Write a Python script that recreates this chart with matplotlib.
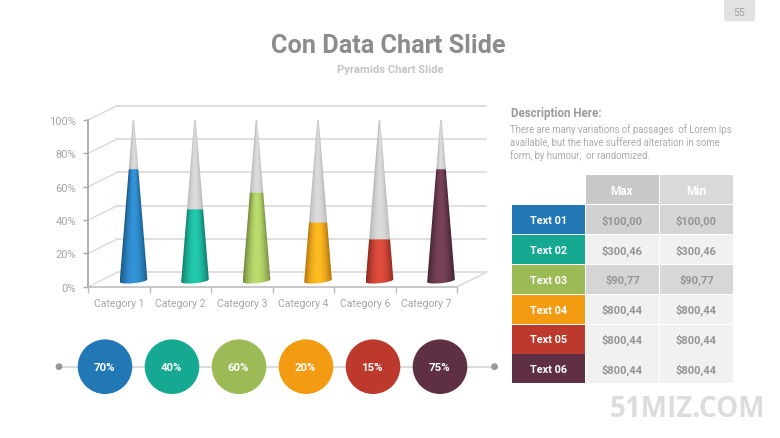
import numpy as np
import matplotlib
matplotlib.use('Agg')
import matplotlib.pyplot as plt
from matplotlib.patches import Rectangle, Circle, FancyBboxPatch, Polygon
from matplotlib.colors import to_rgb

plt.rcParams['font.family'] = ['Roboto', 'DejaVu Sans']

# data
categories = ['Category 1', 'Category 2', 'Category 3', 'Category 4', 'Category 6', 'Category 7']
cone_values = [66.5, 42.5, 52.5, 34.5, 24.5, 66.5]
colors = ['#2278b5', '#14a990', '#9cba56', '#f39c12', '#bd392b', '#5f3044']
yticks = [0, 20, 40, 60, 80, 100]
bubble_values = ['70%', '40%', '60%', '20%', '15%', '75%']
row_names = ['Text 01', 'Text 02', 'Text 03', 'Text 04', 'Text 05', 'Text 06']
max_vals = ['$100,00', '$300,46', '$90,77', '$800,44', '$800,44', '$800,44']
min_vals = ['$100,00', '$300,46', '$90,77', '$800,44', '$800,44', '$800,44']
desc_lines = ['There are many variations of passages  of Lorem Ips',
              'available, but the have suffered alteration in some',
              'form, by humour,  or randomized.']

W, H = 780, 439
fig = plt.figure(figsize=(W / 100, H / 100), dpi=100, facecolor='white')

# chart axes, placed so 0-100% and the 6 categories land on the front frame
ax = fig.add_axes([88.3 / W, 1 - 287.7 / H, 369 / W, 166.7 / H])
ax.patch.set_alpha(0)
depth_x, depth_y = 0.47, 8.6
grid_col = '#d9d9d9'
axis_col = '#bdbdbd'

# back wall, side wall and floor
for v in yticks:
    ax.plot([depth_x, 6 + depth_x], [v + depth_y, v + depth_y], color=grid_col, lw=1.2, clip_on=False, zorder=1)
    ax.plot([0, depth_x], [v, v + depth_y], color=grid_col, lw=1, clip_on=False, zorder=1)
ax.plot([6, 6 + depth_x], [0, depth_y], color=grid_col, lw=1.2, clip_on=False, zorder=1)


def draw_cone(x, value, color):
    cx = x + 0.5 + depth_x / 2
    hw = 0.225
    base = depth_y / 2 - 0.7
    top = base + 102
    xs = np.linspace(cx - hw, cx + hw, 90)
    ys = np.linspace(base - 2, top, 500)
    xx, yy = np.meshgrid(xs, ys)
    frac = np.clip((yy - base) / 102, 0, 1)
    halfw = np.maximum(hw * (1 - frac), 1e-3)
    t = np.clip(np.abs(xx - cx) / halfw, 0, 1)
    c = np.array(to_rgb(color))
    light = np.clip(c * 1.12 + 0.05, 0, 1)
    dark = c * 0.74
    level = (yy - base) <= value
    img = np.ones(xx.shape + (4,))
    for k in range(3):
        col = light[k] + (dark[k] - light[k]) * t ** 2
        grey = 0.86 + (0.72 - 0.86) * t ** 2
        img[..., k] = np.where(level, col, grey)
    img[..., 3] = 1
    im = ax.imshow(img, extent=[xs[0], xs[-1], ys[0], ys[-1]], origin='lower',
                   aspect='auto', zorder=3, interpolation='bilinear')
    # outline: two sides to the tip and a curved front at the base
    a = np.linspace(np.pi, 2 * np.pi, 30)
    bx = cx + hw * np.cos(a)
    by = base + 1.5 * np.sin(a) + 0.8 * np.cos(a)
    clip = Polygon(np.column_stack([np.r_[bx, cx], np.r_[by, top]]), transform=ax.transData)
    im.set_clip_path(clip)


for i, val in enumerate(cone_values):
    draw_cone(i, val, colors[i])

ax.set_xlim(0, 6)
ax.set_ylim(0, 100)
for s in ['top', 'right']:
    ax.spines[s].set_visible(False)
ax.spines['left'].set_color('#a8a8a8')
ax.spines['left'].set_linewidth(1.3)
ax.spines['bottom'].set_color(axis_col)
ax.spines['bottom'].set_linewidth(1.2)
ax.set_yticks(yticks)
ax.set_yticklabels(['%d%%' % v for v in yticks], fontsize=8, color='#a6a6a6')
ax.tick_params(axis='y', length=3.6, width=1, color='#a8a8a8', pad=5)
ax.set_xticks(range(7))
ax.set_xticklabels([])
ax.tick_params(axis='x', which='major', length=4, width=1, color=axis_col)
ax.set_xticks(np.arange(6) + 0.5, minor=True)
ax.set_xticklabels(categories, minor=True, fontsize=7.6, color='#a6a6a6')
ax.tick_params(axis='x', which='minor', length=0, pad=8)

# everything else in a pixel layer
ov = fig.add_axes([0, 0, 1, 1], zorder=5)
ov.set_xlim(0, W)
ov.set_ylim(H, 0)
ov.axis('off')
ov.patch.set_alpha(0)

ov.text(388, 46, 'Con Data Chart Slide', fontsize=18.2, fontweight='bold', color='#8c8c8c', ha='center', va='center')
ov.text(390.5, 70, 'Pyramids Chart Slide', fontsize=8.1, fontweight='bold', color='#c4c4c4', ha='center', va='center')

ov.add_patch(FancyBboxPatch((724, -6), 31, 28.5, boxstyle='round,pad=0,rounding_size=3', fc='#e2e2e2', ec='none'))
ov.text(739.5, 12.5, '55', fontsize=7.5, color='#a0a0a0', ha='center', va='center')

ov.text(511, 113.5, 'Description Here:', fontsize=8.3, fontweight='bold', color='#9a9a9a', va='center')
for i, line in enumerate(desc_lines):
    ov.text(510.5, 129.5 + i * 13, line, fontsize=6.85, color='#ababab', va='center')

# table
col_x = [512, 586, 660]
col_w = [73, 73, 73]
header_y, row_h = 176, 29.9
header_fill = ['#c8c8c8', '#d9d9d9']
row_fill = [('#d1d1d1', '#d5d5d5'), ('#f1f1f1', '#f1f1f1'), ('#d5d5d5', '#d7d7d7'),
            ('#f1f1f1', '#f1f1f1'), ('#f1f1f1', '#f1f1f1'), ('#f1f1f1', '#f1f1f1')]
for j, name in enumerate(['Max', 'Min']):
    ov.add_patch(Rectangle((col_x[j + 1], header_y), col_w[j + 1], row_h - 0.9, fc=header_fill[j], ec='none'))
    ov.text(col_x[j + 1] + 36, header_y + 15.5, name, fontsize=8.6, fontweight='bold', color='white', ha='center', va='center')
for i in range(6):
    y = header_y + (i + 1) * row_h
    ov.add_patch(Rectangle((col_x[0], y), col_w[0], row_h - 0.9, fc=colors[i], ec='none'))
    ov.text(col_x[0] + 37, y + 15, row_names[i], fontsize=7.8, fontweight='bold', color='white', ha='center', va='center')
    for j, vals in enumerate([max_vals, min_vals]):
        ov.add_patch(Rectangle((col_x[j + 1], y), col_w[j + 1], row_h - 0.9, fc=row_fill[i][j], ec='none'))
        ov.text(col_x[j + 1] + 36.5, y + 15, vals[i], fontsize=8, fontweight='bold', color='#949494', ha='center', va='center')

# timeline of bubbles
line_y = 367.7
ov.plot([59, 494], [line_y, line_y], color='#dcdcdc', lw=1.4, zorder=1)
for px in [59, 494.5]:
    ov.add_patch(Circle((px, line_y), 3.4, fc='#979797', ec='none', zorder=2))
for i, lab in enumerate(bubble_values):
    cx = 105 + i * 67
    ov.add_patch(Circle((cx, line_y), 27.3, fc=colors[i], ec='none', zorder=3))
    ov.text(cx - 1, line_y, lab, fontsize=8.2, fontweight='bold', color='white', ha='center', va='center', zorder=4)

ov.text(687, 410, '51MIZ.COM', fontsize=20, fontweight='bold', color='#dcdcdc', family=['Open Sans', 'DejaVu Sans'], ha='center', va='center')

fig.savefig('out.png', dpi=100)
